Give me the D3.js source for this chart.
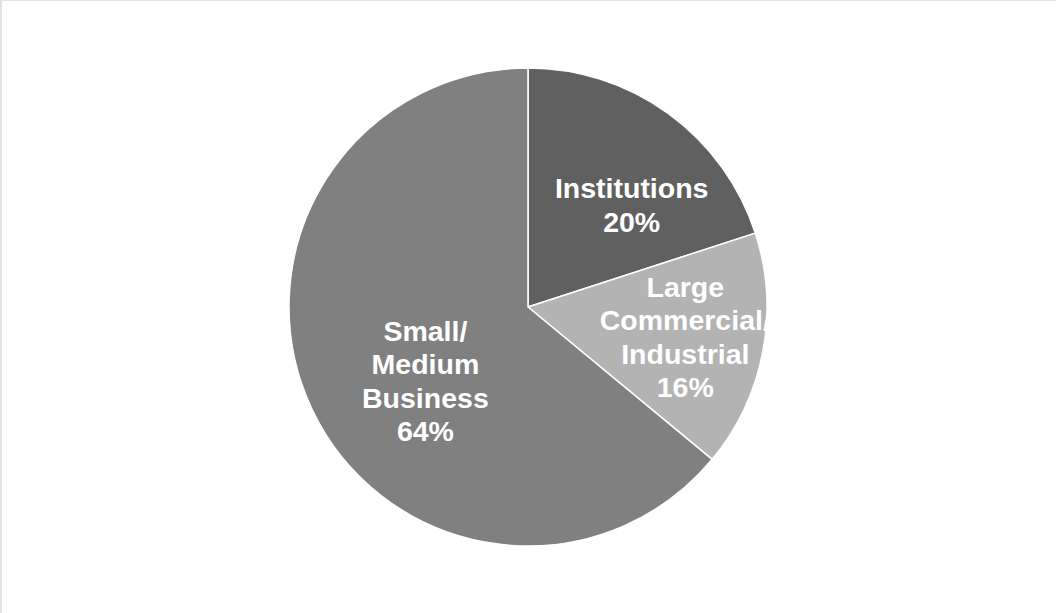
<!DOCTYPE html>
<html>
<head>
<meta charset="utf-8">
<script src="https://cdn.jsdelivr.net/npm/d3@7"></script>
<style>
  html, body { margin: 0; padding: 0; background: #fff; }
  svg { display: block; }
</style>
</head>
<body>
<svg id="chart" width="1056" height="613"></svg>
<script>
// Customer segments and their shares (percent)
const categories = ["Institutions", "Large Commercial/ Industrial", "Small/ Medium Business"];
const shares = [20, 16, 64];
const labelLines = [
  ["Institutions", "20%"],
  ["Large", "Commercial/", "Industrial", "16%"],
  ["Small/", "Medium", "Business", "64%"]
];

const W = 1056, H = 613;
const cx = 528, cy = 307, R = 239;
const fills = ["#606060", "#b3b3b3", "#808080"];
// label anchor: fraction of radius along mid-angle, plus nudge in px
const labelLayout = [
  { k: 0.61, dx: 18, dy: 16 },
  { k: 0.67, dx: 0, dy: 0 },
  { k: 0.53, dx: 12, dy: 20 }
];

const svg = d3.select("#chart");

// light frame on the top and left edges
svg.append("rect").attr("x", 0).attr("y", 0).attr("width", W).attr("height", 1).attr("fill", "#e3e3e3");
svg.append("rect").attr("x", 0).attr("y", 0).attr("width", 2).attr("height", H).attr("fill", "#e3e3e3");

const pie = d3.pie().sort(null).value(d => d)(shares);
const arc = d3.arc().innerRadius(0).outerRadius(R);

const g = svg.append("g").attr("transform", `translate(${cx},${cy})`);

g.selectAll("path.slice")
  .data(pie)
  .join("path")
  .attr("class", "slice")
  .attr("d", arc)
  .attr("fill", (d, i) => fills[i])
  .attr("stroke", "#ffffff")
  .attr("stroke-width", 1.5)
  .attr("stroke-linejoin", "round");

const lineH = 33.5;
pie.forEach((d, i) => {
  const a = (d.startAngle + d.endAngle) / 2;
  const L = labelLayout[i];
  const x = Math.sin(a) * R * L.k + L.dx;
  const y = -Math.cos(a) * R * L.k + L.dy;
  const lines = labelLines[i];
  const t = g.append("text")
    .attr("x", x)
    .attr("y", y - (lines.length - 1) * lineH / 2)
    .attr("text-anchor", "middle")
    .attr("font-family", "Arial, 'Liberation Sans', sans-serif")
    .attr("font-weight", "bold")
    .attr("font-size", 28.5)
    .attr("fill", "#ffffff");
  lines.forEach((s, j) => {
    t.append("tspan")
      .attr("x", x)
      .attr("dy", j === 0 ? "0.35em" : lineH)
      .text(s);
  });
});
</script>
</body>
</html>
